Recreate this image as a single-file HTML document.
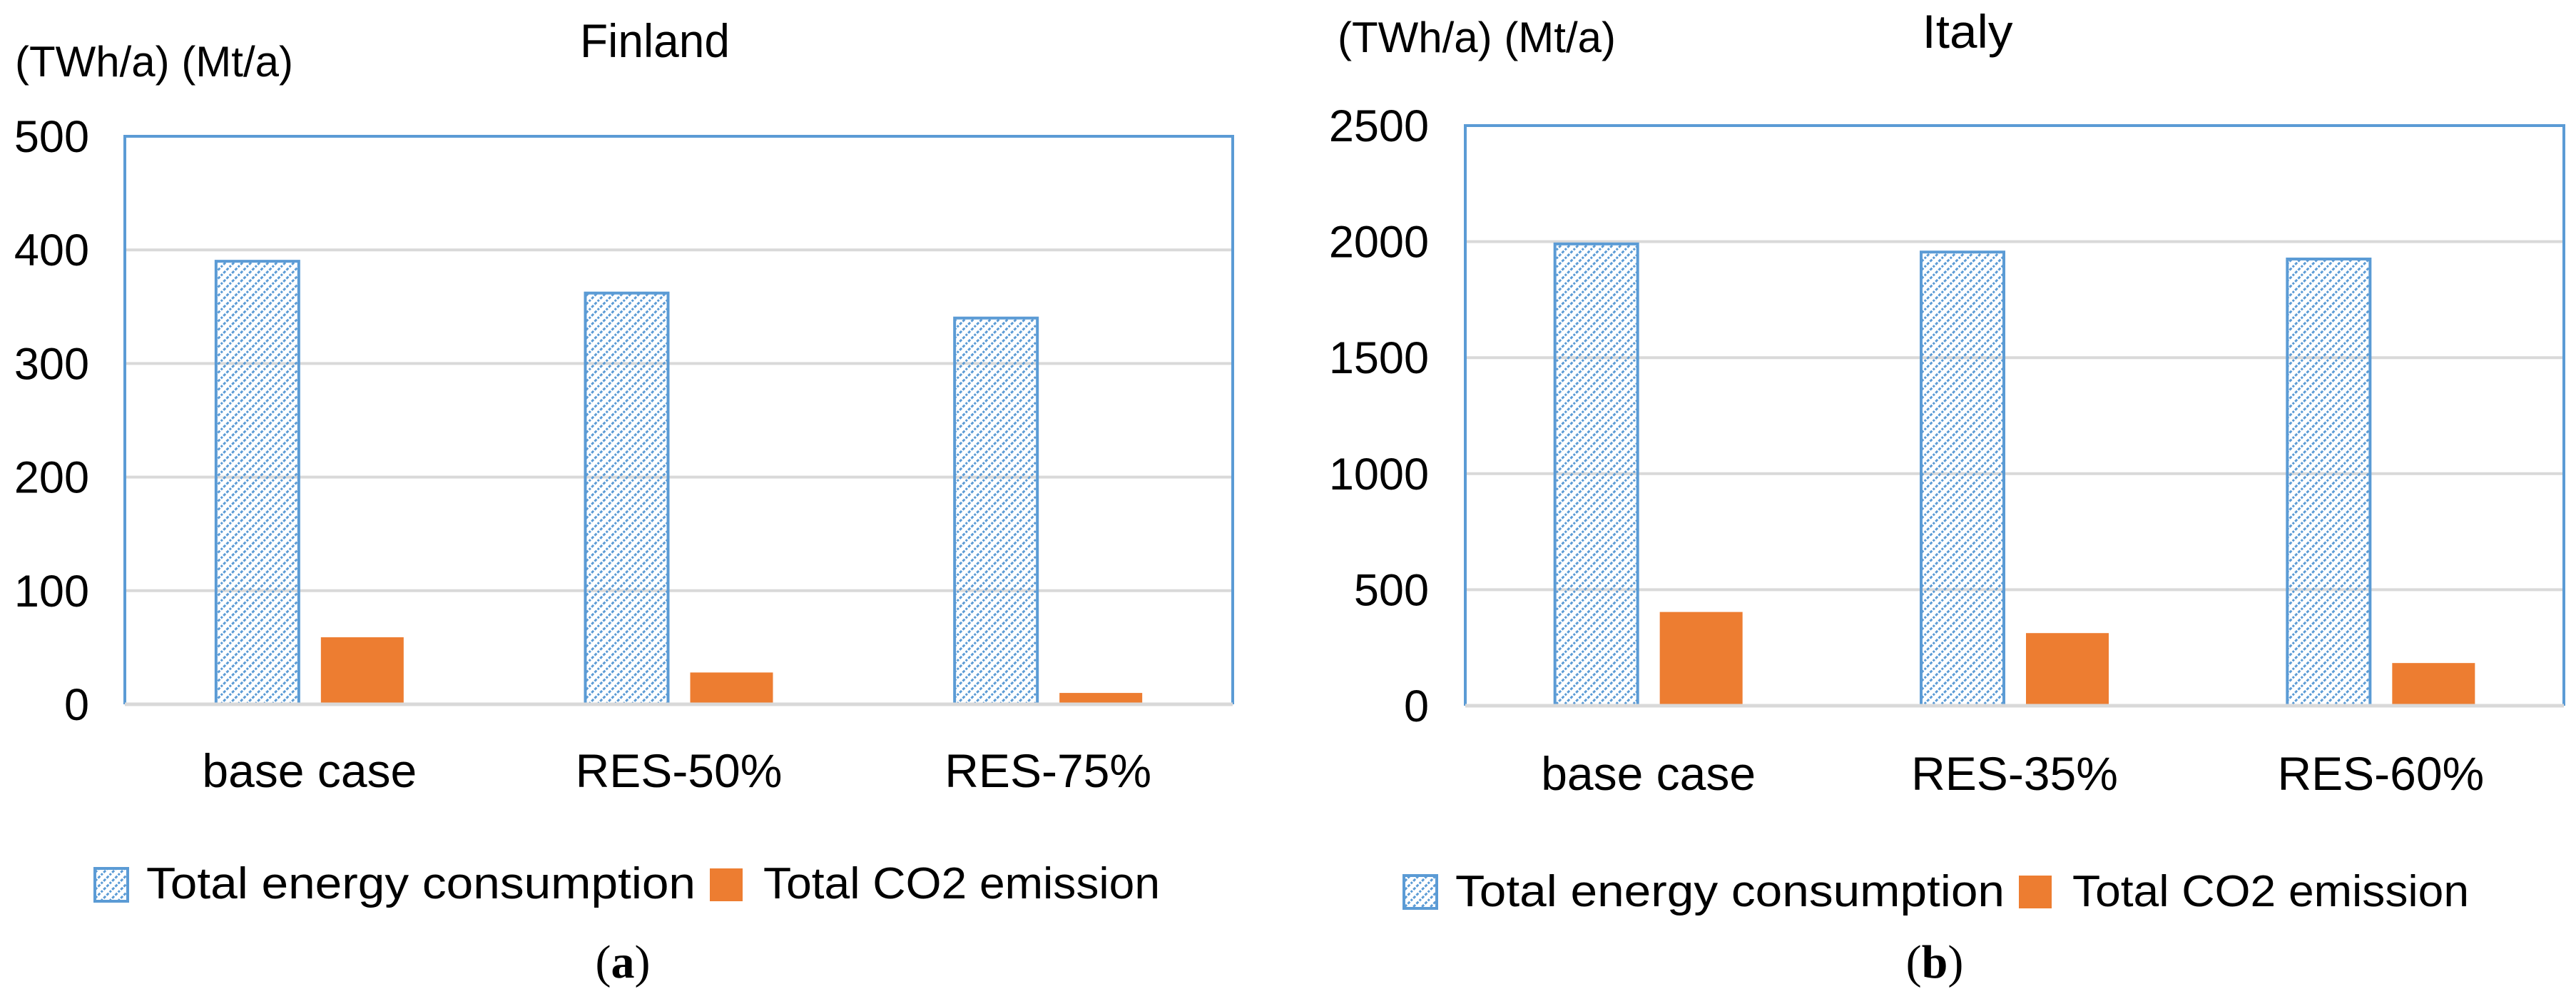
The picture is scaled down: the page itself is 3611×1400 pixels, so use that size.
<!DOCTYPE html>
<html><head><meta charset="utf-8"><style>
html,body{margin:0;padding:0;background:#fff;}
svg{display:block;}
text{font-family:"Liberation Sans",sans-serif;fill:#000;}
</style></head><body>
<svg id="fig" width="3611" height="1400" viewBox="0 0 3611 1400" xmlns="http://www.w3.org/2000/svg">
<defs>
<pattern id="hatch" patternUnits="userSpaceOnUse" width="12" height="12">
<path d="M-3,15 L15,-3 M-3,3 L3,-3 M9,15 L15,9" stroke="#5b9bd5" stroke-width="3" stroke-dasharray="4,2"/>
</pattern>
</defs>
<g id="chartA"></g>
<g id="chartB"></g>
</svg>
<script>
// Finland data
const finCategories = ["base case", "RES-50%", "RES-75%"];
const finEnergy = [390, 362, 340];
const finCO2 = [59, 28, 10];
const finTicks = [0, 100, 200, 300, 400, 500];
// Italy data
const itaCategories = ["base case", "RES-35%", "RES-60%"];
const itaEnergy = [1990, 1955, 1925];
const itaCO2 = [404, 313, 184];
const itaTicks = [0, 500, 1000, 1500, 2000, 2500];

const NS = "http://www.w3.org/2000/svg";
function mk(tag, attrs, parent) {
  const e = document.createElementNS(NS, tag);
  for (const k in attrs) e.setAttribute(k, attrs[k]);
  parent.appendChild(e);
  return e;
}

function drawChart(g, cfg, cats, energy, co2, ticks) {
  const yMax = ticks[ticks.length - 1];
  const y = v => cfg.bottom - (v / yMax) * (cfg.bottom - cfg.top);
  const groupW = (cfg.right - cfg.left) / cats.length;
  const xc = i => cfg.left + groupW * (i + 0.5);

  ticks.forEach(t => {
    if (t > 0 && t < yMax) {
      const gl = mk("line", {x1: cfg.left, x2: cfg.right, y1: y(t), y2: y(t), stroke: "#d9d9d9", "stroke-width": 4}, g);
      
      
    }
    const tl = mk("text", {x: cfg.tickRight, y: y(t) + 22, "text-anchor": "end", "font-size": 63}, g);
    
    
    tl.textContent = t;
  });

  cats.forEach((c, i) => {
    const bw = 116;
    const b1 = mk("rect", {x: xc(i) - 73 - bw / 2, y: y(energy[i]), width: bw, height: cfg.bottom - y(energy[i]), fill: "url(#hatch)", stroke: "#5b9bd5", "stroke-width": 4}, g);
    
    
    const b2 = mk("rect", {x: xc(i) + 74 - bw / 2, y: y(co2[i]), width: bw, height: cfg.bottom - y(co2[i]), fill: "#ed7d31"}, g);
    
    
    const cl = mk("text", {x: xc(i), y: cfg.catY, "text-anchor": "middle", "font-size": 66}, g);
    
    
    cl.textContent = c;
  });

  const fr = mk("path", {d: `M${cfg.left},${cfg.bottom} L${cfg.left},${cfg.top} L${cfg.right},${cfg.top} L${cfg.right},${cfg.bottom}`, fill: "none", stroke: "#5b9bd5", "stroke-width": 4}, g);
  
  
  const ax = mk("line", {x1: cfg.left, x2: cfg.right, y1: cfg.bottom, y2: cfg.bottom, stroke: "#d9d9d9", "stroke-width": 5}, g);
  
  

  const ti = mk("text", {x: cfg.titleX, y: cfg.titleY, "text-anchor": "middle", "font-size": 66, textLength: cfg.titleW, lengthAdjust: "spacingAndGlyphs"}, g);
  
  
  ti.textContent = cfg.title;
  const un = mk("text", {x: cfg.unitX, y: cfg.unitY, "font-size": 60, textLength: 390, lengthAdjust: "spacingAndGlyphs"}, g);
  
  
  un.textContent = "(TWh/a) (Mt/a)";

  const l1 = mk("rect", {x: cfg.legX, y: cfg.legY - 23, width: 46, height: 46, fill: "url(#hatch)", stroke: "#5b9bd5", "stroke-width": 4}, g);
  
  
  const lt1 = mk("text", {x: cfg.legX + 72, y: cfg.legBase, "font-size": 62, textLength: 770, lengthAdjust: "spacingAndGlyphs"}, g);
  
  
  lt1.textContent = "Total energy consumption";
  const l2 = mk("rect", {x: cfg.legX + 862, y: cfg.legY - 23, width: 46, height: 46, fill: "#ed7d31"}, g);
  
  
  const lt2 = mk("text", {x: cfg.legX + 937, y: cfg.legBase, "font-size": 62, textLength: 556, lengthAdjust: "spacingAndGlyphs"}, g);
  
  
  lt2.textContent = "Total CO2 emission";

  const cap = mk("text", {x: cfg.capX, y: 1370, "text-anchor": "middle", "font-size": 66, style: "font-family:'Liberation Serif',serif"}, g);
  
  
  cap.innerHTML = '(<tspan font-weight="bold">' + cfg.capLetter + '</tspan>)';
}

drawChart(document.getElementById("chartA"),
  {left: 175, right: 1728, top: 191, bottom: 987, tickRight: 125, catY: 1103,
   title: "Finland", titleX: 918, titleY: 80, titleW: 210, unitX: 21, unitY: 107,
   legX: 133, legY: 1240, legBase: 1259, capX: 873, capLetter: "a"},
  finCategories, finEnergy, finCO2, finTicks);

drawChart(document.getElementById("chartB"),
  {left: 2054, right: 3594, top: 176, bottom: 989, tickRight: 2003, catY: 1107,
   title: "Italy", titleX: 2758, titleY: 67, titleW: 127, unitX: 1875, unitY: 73,
   legX: 1968, legY: 1250, legBase: 1270, capX: 2712, capLetter: "b"},
  itaCategories, itaEnergy, itaCO2, itaTicks);
</script>
</body></html>
